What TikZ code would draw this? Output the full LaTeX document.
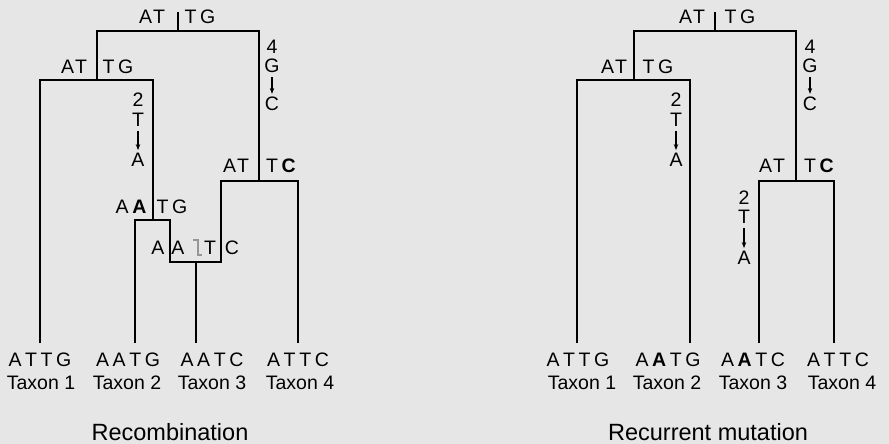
\documentclass[tikz,border=0pt]{standalone}
\usepackage{fontspec}
\setmainfont{Liberation Sans}
\usetikzlibrary{arrows.meta}
\definecolor{bg}{RGB}{230,230,230}
\definecolor{recgrey}{RGB}{150,150,150}
\newcommand\gp{\kern3.6pt}
\begin{document}
\begin{tikzpicture}[x=1pt,y=-1pt,
  every node/.style={font=\fontsize{19.5pt}{22pt}\selectfont, inner sep=0pt},
  title/.style={font=\fontsize{23.5pt}{26pt}\selectfont},
  branch/.style={line width=2.6pt, line join=miter},
  mut/.style={line width=1.2pt, -{Stealth[length=6pt,width=4.5pt]}, shorten <=4pt, shorten >=3pt},
  recomb/.style={recgrey, line width=2pt}]
\fill[bg] (0,0) rectangle (889,444);
\useasboundingbox (0,0) rectangle (889,444);

% ---------------- Left tree: Recombination ----------------
\coordinate (rootL) at (178,31);
\coordinate (rootLtop) at (178,12);
\coordinate (n12L) at (97,80);
\coordinate (n4cL) at (259,181);
\coordinate (nAAL) at (153,220);
\coordinate (recA) at (170,262);
\coordinate (recB) at (221,262);
\coordinate (recL) at (196,262);
\coordinate (t1L) at (40,343);
\coordinate (t2L) at (135,343);
\coordinate (t3L) at (196,343);
\coordinate (t4L) at (298,343);

\draw[branch] (rootL) -- (rootLtop);
\draw[branch] (n12L) |- (rootL) -| (n4cL);
\draw[branch] (t1L) |- (n12L) -| (nAAL);
\draw[branch] (t2L) |- (nAAL) -| (recA) -- (recB) |- (n4cL) -| (t4L);
\draw[branch] (recL) -- (t3L);

\node (rLa) at (152,17) {A\kern1pt T};
\node (rLb) at (200,17) {T\gp G};
\node (aLa) at (74,67) {A\kern1pt T};
\node (aLb) at (118,67) {T\gp G};
\node (cLa) at (236,166) {A\kern1pt T};
\node (cLb) at (281,166) {T\gp\textbf{C}};
\node (dLa) at (131,207) {A\gp\textbf{A}};
\node (dLb) at (172,207) {T\gp G};
\node (eL1) at (158,248) {A};
\node (eL2) at (178,248) {A};
\node (eL3) at (210,248) {T};
\node (eL4) at (232,248) {C};
\draw[recomb] (193,240) -- (197.5,240) -- (197.5,255) -- (201.5,255);

\node (m2L) at (138,100) {2};
\node (m2LT) at (138,120) {T};
\node (m2LA) at (138,160) {A};
\draw[mut] (m2LT.south) -- (m2LA.north);
\node (m4L) at (272,47) {4};
\node (m4LG) at (272,66) {G};
\node (m4LC) at (272,104) {C};
\draw[mut] (m4LG.south) -- (m4LC.north);

\node (s1L) at (40,360) {A\gp T\gp T\gp G};
\node (s2L) at (128,360) {A\gp A\gp T\gp G};
\node (s3L) at (212,360) {A\gp A\gp T\gp C};
\node (s4L) at (298,360) {A\gp T\gp T\gp C};
\node (x1L) at (41,383) {Taxon 1};
\node (x2L) at (127,383) {Taxon 2};
\node (x3L) at (212,383) {Taxon 3};
\node (x4L) at (300,383) {Taxon 4};
\node[title] (titL) at (170,432) {Recombination};

% ---------------- Right tree: Recurrent mutation ----------------
\coordinate (rootR) at (715,31);
\coordinate (rootRtop) at (715,12);
\coordinate (n12R) at (634,80);
\coordinate (n4cR) at (796,181);
\coordinate (t1R) at (577,343);
\coordinate (t2R) at (690,343);
\coordinate (t3R) at (759,343);
\coordinate (t4R) at (834,343);

\draw[branch] (rootR) -- (rootRtop);
\draw[branch] (n12R) |- (rootR) -| (n4cR);
\draw[branch] (t1R) |- (n12R) -| (t2R);
\draw[branch] (t3R) |- (n4cR) -| (t4R);

\node (rRa) at (692,17) {A\kern1pt T};
\node (rRb) at (740,17) {T\gp G};
\node (aRa) at (614,67) {A\kern1pt T};
\node (aRb) at (658,67) {T\gp G};
\node (cRa) at (772,166) {A\kern1pt T};
\node (cRb) at (819,166) {T\gp\textbf{C}};

\node (m2R) at (676,100) {2};
\node (m2RT) at (676,120) {T};
\node (m2RA) at (676,160) {A};
\draw[mut] (m2RT.south) -- (m2RA.north);
\node (m4R) at (810,47) {4};
\node (m4RG) at (810,66) {G};
\node (m4RC) at (810,104) {C};
\draw[mut] (m4RG.south) -- (m4RC.north);
\node (m2R2) at (744,198) {2};
\node (m2R2T) at (744,217) {T};
\node (m2R2A) at (744,258) {A};
\draw[mut] (m2R2T.south) -- (m2R2A.north);

\node (s1R) at (578,360) {A\gp T\gp T\gp G};
\node (s2R) at (668,360) {A\gp\textbf{A}\gp T\gp G};
\node (s3R) at (753,360) {A\gp\textbf{A}\gp T\gp C};
\node (s4R) at (838,360) {A\gp T\gp T\gp C};
\node (x1R) at (582,383) {Taxon 1};
\node (x2R) at (667,383) {Taxon 2};
\node (x3R) at (753,383) {Taxon 3};
\node (x4R) at (842,383) {Taxon 4};
\node[title] (titR) at (708,432) {Recurrent mutation};
\end{tikzpicture}
\end{document}
